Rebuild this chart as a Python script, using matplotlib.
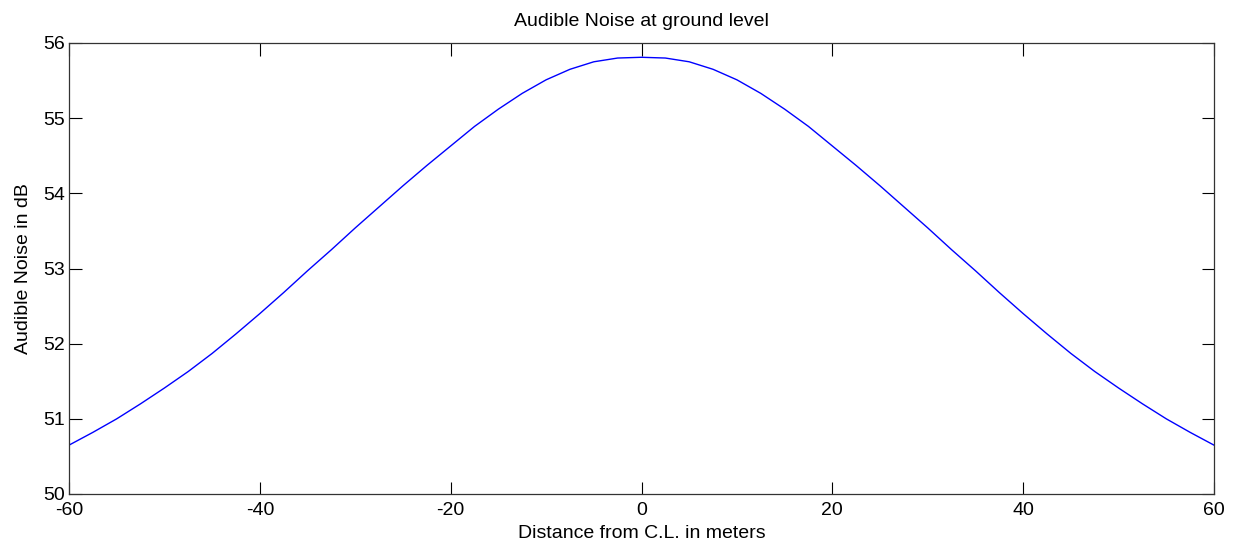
import matplotlib
matplotlib.use("Agg")
import matplotlib.pyplot as plt

plt.rcParams['font.family'] = ['Liberation Sans', 'DejaVu Sans']
plt.rcParams['axes.unicode_minus'] = False

# Distance from centre line (m) and audible noise (dB)
distance = [-60, -57.5, -55, -52.5, -50, -47.5, -45, -42.5, -40, -37.5, -35,
            -32.5, -30, -27.5, -25, -22.5, -20, -17.5, -15, -12.5, -10, -7.5,
            -5, -2.5, 0, 2.5, 5, 7.5, 10, 12.5, 15, 17.5, 20, 22.5, 25, 27.5,
            30, 32.5, 35, 37.5, 40, 42.5, 45, 47.5, 50, 52.5, 55, 57.5, 60]
noise_db = [50.65, 50.82, 51.00, 51.20, 51.41, 51.63, 51.87, 52.13, 52.40,
            52.68, 52.97, 53.25, 53.54, 53.82, 54.10, 54.37, 54.63, 54.89,
            55.12, 55.33, 55.51, 55.65, 55.75, 55.80, 55.81, 55.80, 55.75,
            55.65, 55.51, 55.33, 55.12, 54.89, 54.63, 54.37, 54.10, 53.82,
            53.54, 53.25, 52.97, 52.68, 52.40, 52.13, 51.87, 51.63, 51.41,
            51.20, 51.00, 50.82, 50.65]

x_ticks = [-60, -40, -20, 0, 20, 40, 60]
y_ticks = [50, 51, 52, 53, 54, 55, 56]

fig = plt.figure(figsize=(12.38, 5.48), dpi=100)
ax = fig.add_axes([69/1238, 54/548, (1214-69)/1238, (494-43)/548])
ax.plot(distance, noise_db, color='#0000ff', linewidth=1.0)

ax.set_xlim(-60, 60)
ax.set_ylim(50, 56)
ax.set_xticks(x_ticks)
ax.set_yticks(y_ticks)
ax.tick_params(direction='in', length=9, width=0.8, top=True, right=True,
               labelsize=14, colors='black')
ax.tick_params(axis='x', pad=6)
ax.tick_params(axis='y', pad=3)
for s in ax.spines.values():
    s.set_linewidth(0.9)
    s.set_color('#333333')

ax.set_title('Audible Noise at ground level', fontsize=14, pad=12)
ax.set_xlabel('Distance from C.L. in meters', fontsize=14, labelpad=4)
ax.set_ylabel('Audible Noise in dB', fontsize=14, labelpad=8)

fig.savefig('out.png', dpi=100)
